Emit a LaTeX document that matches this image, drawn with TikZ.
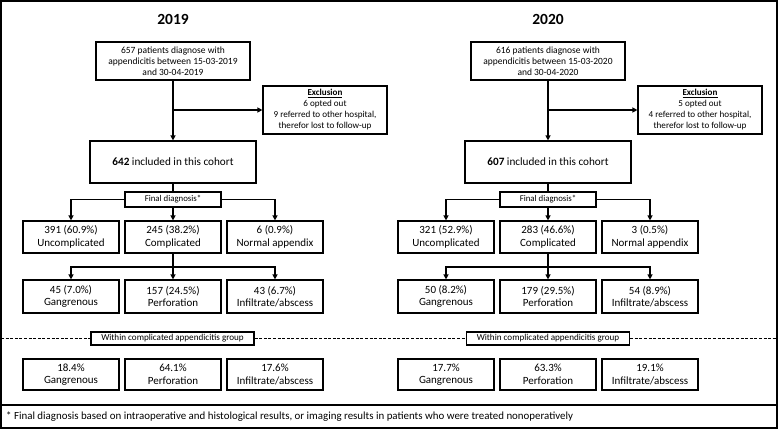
\documentclass[tikz,border=0pt]{standalone}
\usepackage{fontspec}
\setmainfont{Carlito}
\usetikzlibrary{arrows.meta}
\tikzset{
  bx/.style={draw, line width=1.2pt, align=center, inner sep=0pt, minimum width=96pt, minimum height=32pt, font=\fontsize{11}{12.5}\selectfont},
  topbox/.style={bx, minimum width=154pt, minimum height=38pt, font=\fontsize{9.5}{11}\selectfont},
  exbox/.style={bx, minimum width=124pt, minimum height=48pt, font=\fontsize{9.1}{11}\selectfont},
  inbox/.style={bx, minimum width=166pt, minimum height=42pt, font=\fontsize{11.2}{13}\selectfont},
  fdbox/.style={bx, minimum width=96pt, minimum height=15pt, font=\fontsize{8.8}{10}\selectfont},
  wbox/.style={bx, minimum width=163pt, minimum height=13pt, font=\fontsize{9.1}{10}\selectfont},
  title/.style={font=\fontsize{15.5}{18}\selectfont\bfseries, inner sep=0pt},
  arr/.style={line width=1.3pt, -{Triangle[length=5pt,width=5pt]}},
  ln/.style={line width=1.3pt},
  dsh/.style={line width=0.7pt, dash pattern=on 3pt off 1.6pt},
}
\begin{document}
\begin{tikzpicture}[x=1pt,y=-1pt]
\useasboundingbox (0,0) rectangle (778,429);
\draw[line width=1.3pt] (1,1) rectangle (777,428);
\coordinate (fl) at (1,405);
\coordinate (fr) at (777,405);
\draw[line width=1.3pt] (fl) -- (fr);
\node[anchor=west, inner sep=0pt, font=\fontsize{10.9}{12}\selectfont] (foot) at (6,416.5) {* Final diagnosis based on intraoperative and histological results, or imaging results in patients who were treated nonoperatively};

% ---------- 2019 ----------
\node[title] (tL) at (173,19) {2019};
\node[topbox] (topL) at (173,61) {657 patients diagnose with\\appendicitis between 15-03-2019\\and 30-04-2019};
\node[exbox] (exL) at (325,110) {\textbf{\underline{Exclusion}}\\6 opted out\\9 referred to other hospital,\\therefor lost to follow-up};
\node[inbox] (inL) at (173,162) {\textbf{642} included in this cohort};
\node[fdbox] (fdL) at (173,199.5) {Final diagnosis*};
\node[bx] (uL) at (71,237) {391 (60.9\%)\\Uncomplicated};
\node[bx] (cL) at (173,237) {245 (38.2\%)\\Complicated};
\node[bx] (nL) at (275,237) {6 (0.9\%)\\Normal appendix};
\node[bx, minimum height=33pt] (gL) at (71,296.5) {45 (7.0\%)\\Gangrenous};
\node[bx, minimum height=33pt] (pL) at (173,296.5) {157 (24.5\%)\\Perforation};
\node[bx, minimum height=33pt] (iL) at (275,296.5) {43 (6.7\%)\\Infiltrate/abscess};
\node[wbox] (wL) at (172.5,338.5) {Within complicated appendicitis group};
\node[bx, minimum height=31pt] (g2L) at (71,374.5) {18.4\%\\Gangrenous};
\node[bx, minimum height=31pt] (p2L) at (173,374.5) {64.1\%\\Perforation};
\node[bx, minimum height=31pt] (i2L) at (275,374.5) {17.6\%\\Infiltrate/abscess};

\draw[arr] (topL) -- (inL);
\draw[arr] (topL.south |- exL.west) -- (exL.west);
\draw[ln] (inL) -- (fdL);
\draw[arr] (fdL.west) -| (uL);
\draw[arr] (fdL) -- (cL);
\draw[arr] (fdL.east) -| (nL);
\coordinate (cjL) at (173,267);
\draw[ln] (cL) -- (cjL);
\draw[arr] (cjL) -| (gL);
\draw[arr] (cjL) -- (pL);
\draw[arr] (cjL) -| (iL);

% ---------- 2020 ----------
\node[title] (tR) at (548,19) {2020};
\node[topbox] (topR) at (548,61) {616 patients diagnose with\\appendicitis between 15-03-2020\\and 30-04-2020};
\node[exbox] (exR) at (700,110) {\textbf{\underline{Exclusion}}\\5 opted out\\4 referred to other hospital,\\therefor lost to follow-up};
\node[inbox] (inR) at (548,162) {\textbf{607} included in this cohort};
\node[fdbox] (fdR) at (548,199.5) {Final diagnosis*};
\node[bx] (uR) at (446,237) {321 (52.9\%)\\Uncomplicated};
\node[bx] (cR) at (548,237) {283 (46.6\%)\\Complicated};
\node[bx] (nR) at (650,237) {3 (0.5\%)\\Normal appendix};
\node[bx, minimum height=33pt] (gR) at (446,296.5) {50 (8.2\%)\\Gangrenous};
\node[bx, minimum height=33pt] (pR) at (548,296.5) {179 (29.5\%)\\Perforation};
\node[bx, minimum height=33pt] (iR) at (650,296.5) {54 (8.9\%)\\Infiltrate/abscess};
\node[wbox] (wR) at (548,338.5) {Within complicated appendicitis group};
\node[bx, minimum height=31pt] (g2R) at (446,374.5) {17.7\%\\Gangrenous};
\node[bx, minimum height=31pt] (p2R) at (548,374.5) {63.3\%\\Perforation};
\node[bx, minimum height=31pt] (i2R) at (650,374.5) {19.1\%\\Infiltrate/abscess};

\draw[arr] (topR) -- (inR);
\draw[arr] (topR.south |- exR.west) -- (exR.west);
\draw[ln] (inR) -- (fdR);
\draw[arr] (fdR.west) -| (uR);
\draw[arr] (fdR) -- (cR);
\draw[arr] (fdR.east) -| (nR);
\coordinate (cjR) at (548,267);
\draw[ln] (cR) -- (cjR);
\draw[arr] (cjR) -| (gR);
\draw[arr] (cjR) -- (pR);
\draw[arr] (cjR) -| (iR);

% dashed separator
\coordinate (dl) at (1,338.5);
\coordinate (dr) at (777,338.5);
\draw[dsh] (dl) -- (wL.west);
\draw[dsh] (wL.east) -- (wR.west);
\draw[dsh] (wR.east) -- (dr);
\end{tikzpicture}
\end{document}
